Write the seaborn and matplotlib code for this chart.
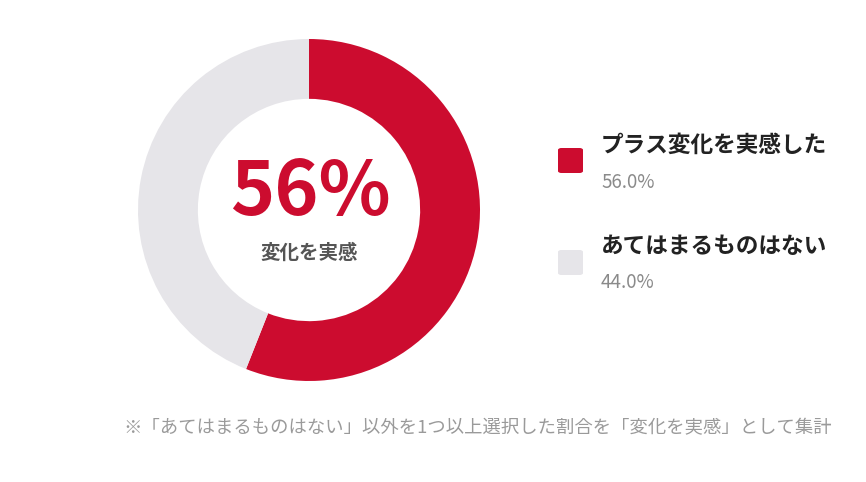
import matplotlib
matplotlib.use("Agg")
import matplotlib.pyplot as plt
import seaborn as sns
from matplotlib.patches import FancyBboxPatch

# Data
labels = ["プラス変化を実感した", "あてはまるものはない"]
values = [56.0, 44.0]
colors = ["#CC0C2F", "#E6E5E9"]
center_value = "56%"
center_label = "変化を実感"
footnote = "※「あてはまるものはない」以外を1つ以上選択した割合を「変化を実感」として集計"

W, H = 866, 482

sns.set_theme(style="white")
plt.rcParams["font.family"] = ["Noto Sans CJK JP", "DejaVu Sans"]


def fx(px):
    return px / W


def fy(py):
    return 1 - py / H


fig = plt.figure(figsize=(W / 100, H / 100), dpi=100)
fig.patch.set_facecolor("white")

# Donut
cx, cy, r = 309, 210, 171
ax = fig.add_axes([fx(cx - r), fy(cy + r), 2 * r / W, 2 * r / H])
ax.pie(values, colors=colors, startangle=90, counterclock=False,
       radius=1.0, wedgeprops=dict(width=0.35, edgecolor="none"))
ax.set_xlim(-1, 1)
ax.set_ylim(-1, 1)
ax.set_aspect("auto")
ax.axis("off")

fig.text(fx(cx + 1), fy(193), center_value, ha="center", va="center",
         fontsize=54, fontweight="bold", color=colors[0])
fig.text(fx(cx), fy(253), center_label, ha="center", va="center",
         fontsize=14, fontweight="bold", color="#555555")

# Legend
rows = [(145, 183), (247, 282)]
for (ty, py), lab, val, col in zip(rows, labels, values, colors):
    sq_top = ty + 3
    box = FancyBboxPatch((fx(558), fy(sq_top + 25)), 25 / W, 25 / H,
                         boxstyle="round,pad=0,rounding_size=0.004",
                         transform=fig.transFigure, facecolor=col,
                         edgecolor="none")
    fig.patches.append(box)
    fig.text(fx(601), fy(ty), lab, ha="left", va="center",
             fontsize=16.3, fontweight="bold", color="#222222")
    fig.text(fx(601), fy(py), f"{val:.1f}%", ha="left", va="center",
             fontsize=13.5, color="#8A8A8A")

fig.text(fx(832), fy(428), footnote, ha="right", va="center",
         fontsize=13.2, color="#9A9A9A")

fig.savefig("out.png", dpi=100, facecolor="white")
